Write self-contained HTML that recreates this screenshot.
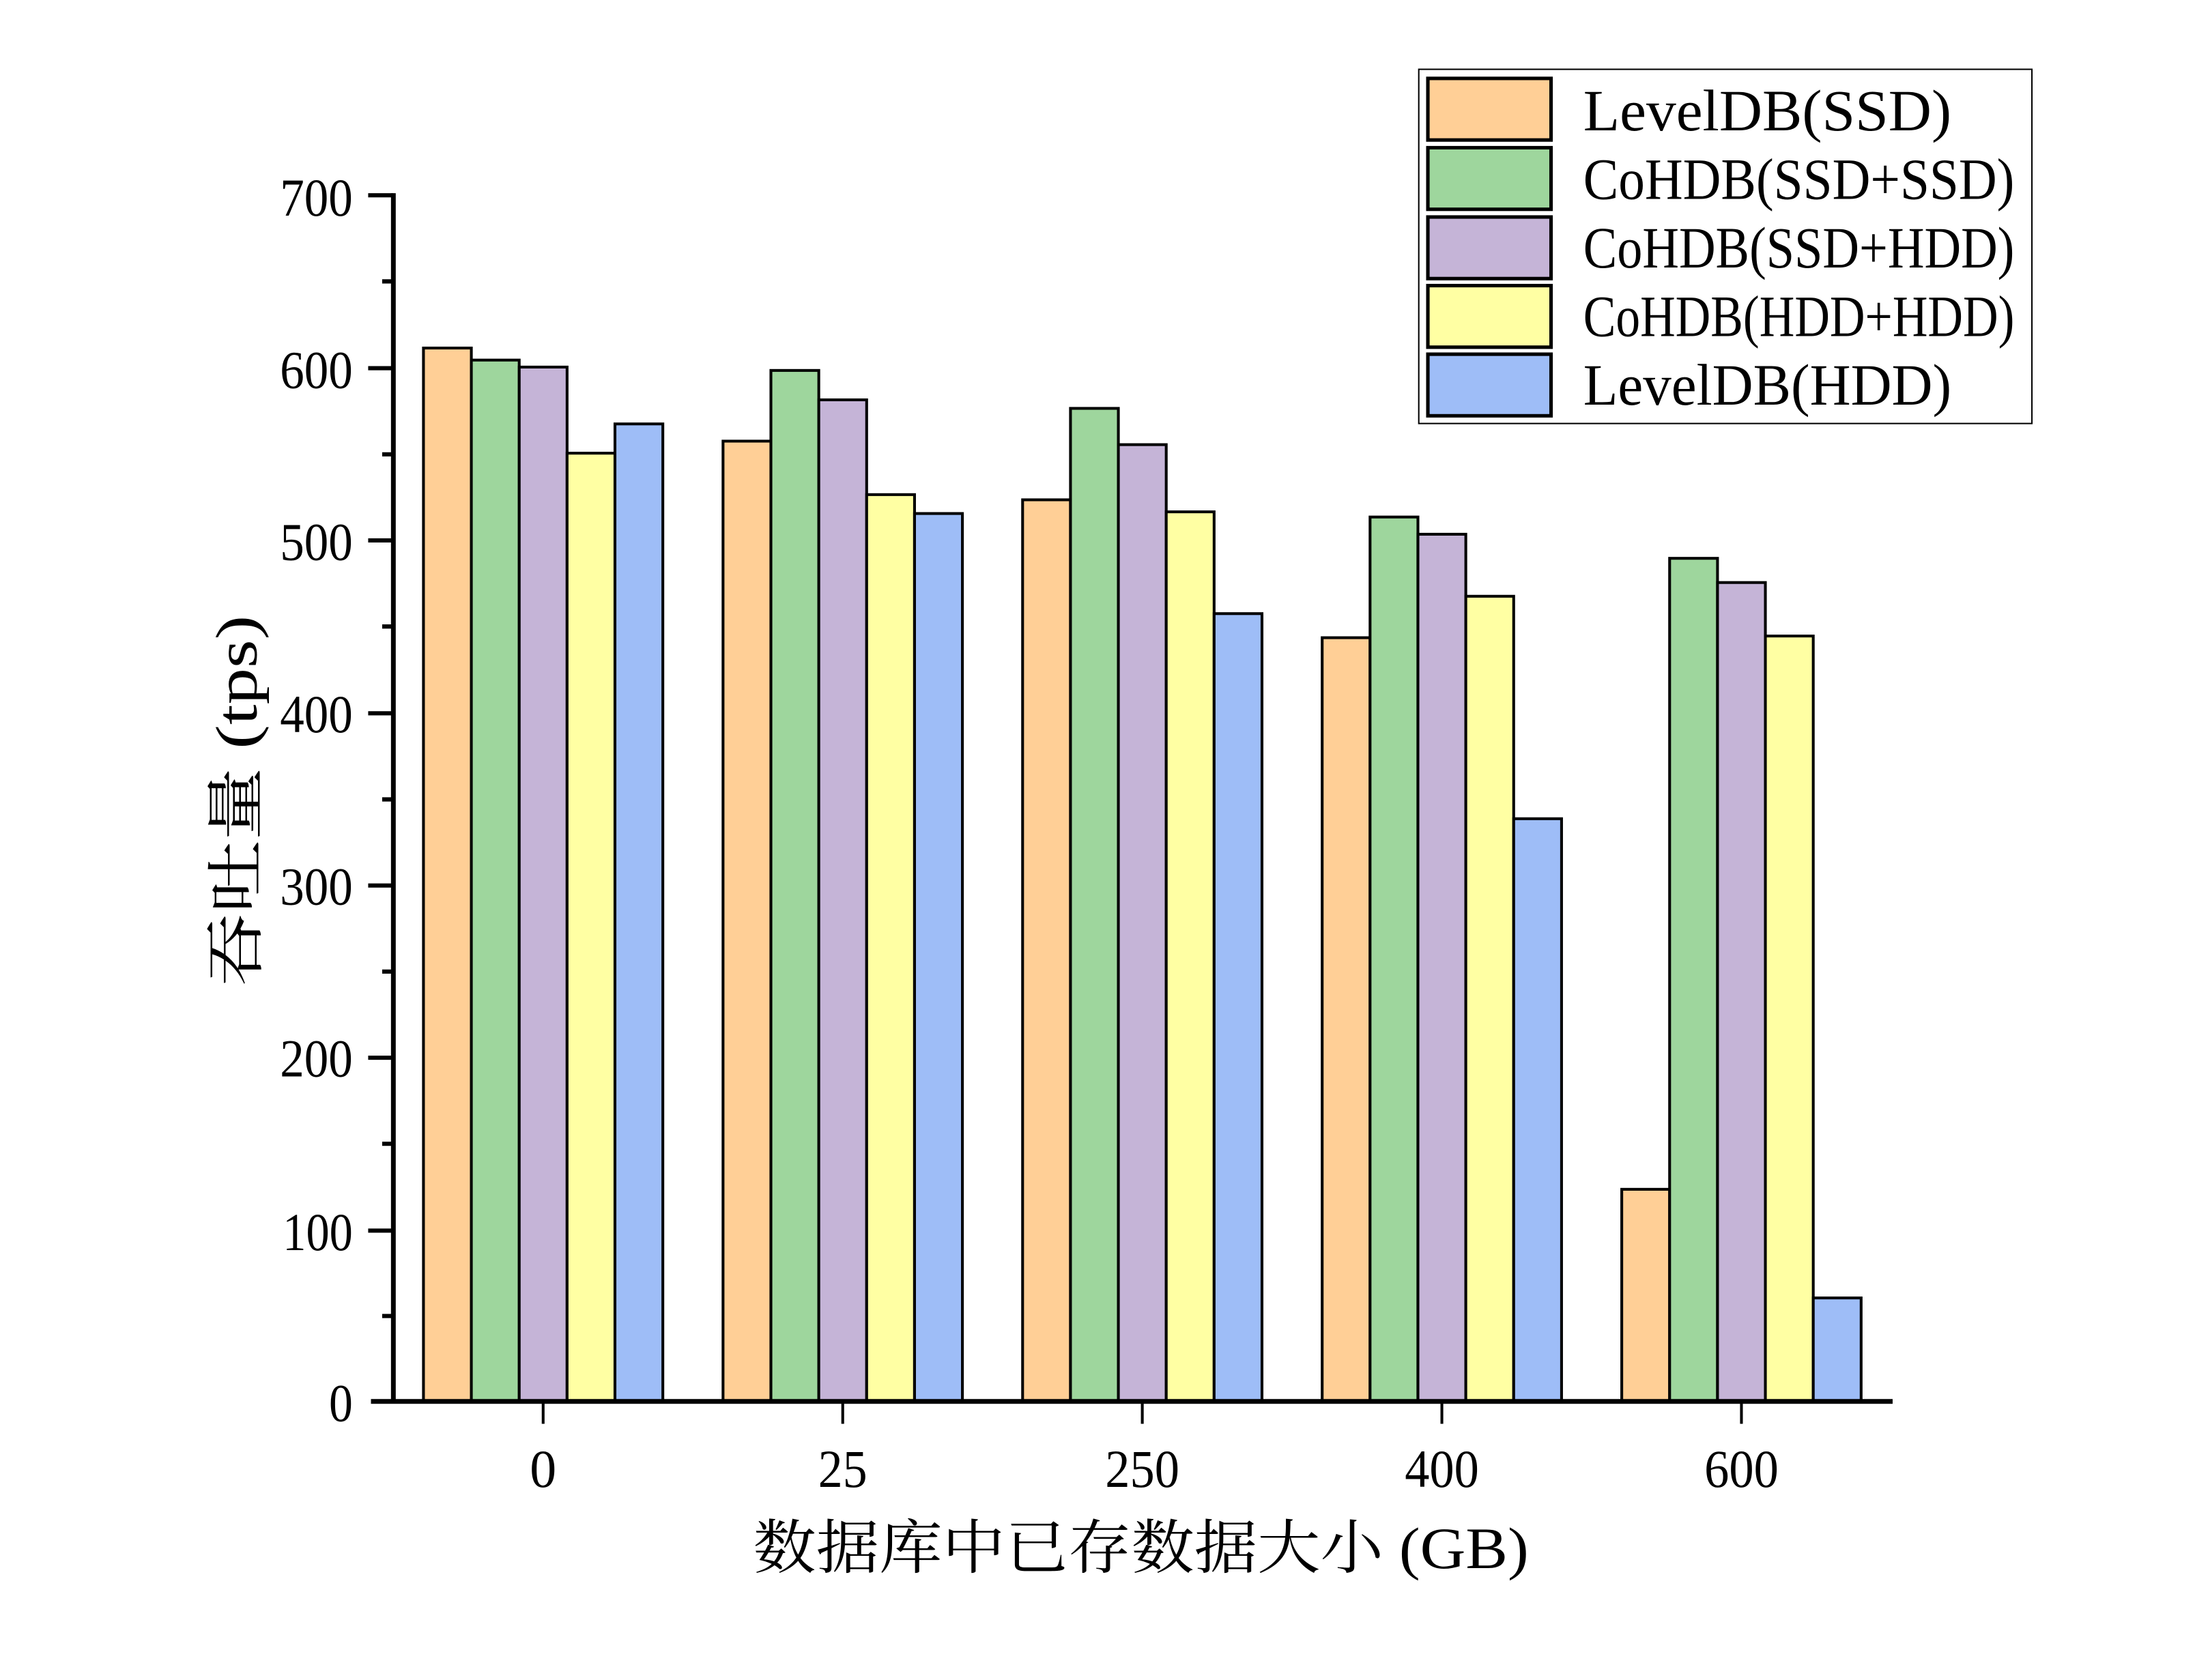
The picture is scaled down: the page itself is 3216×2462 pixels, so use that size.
<!DOCTYPE html>
<html><head><meta charset="utf-8"><style>
html,body{margin:0;padding:0;background:#fff;}
svg{display:block;}
text{font-family:"Liberation Serif","Noto Serif CJK SC",serif;fill:#000;}
</style></head><body>
<svg width="3216" height="2462" viewBox="0 0 1568 1200" preserveAspectRatio="none" xmlns="http://www.w3.org/2000/svg">
<rect width="1568" height="1200" fill="#fff"/>
<g stroke="#000" stroke-width="2">
<rect x="302.5" y="248.6" width="34.2" height="752.4" fill="#FFCF96"/>
<rect x="336.7" y="257.2" width="34.2" height="743.8" fill="#9ED69D"/>
<rect x="370.9" y="262.2" width="34.2" height="738.8" fill="#C5B4D7"/>
<rect x="405.1" y="323.7" width="34.2" height="677.3" fill="#FFFFA3"/>
<rect x="439.3" y="302.8" width="34.2" height="698.2" fill="#9EBDF7"/>
<rect x="516.5" y="315.1" width="34.2" height="685.9" fill="#FFCF96"/>
<rect x="550.7" y="264.6" width="34.2" height="736.4" fill="#9ED69D"/>
<rect x="584.9" y="285.6" width="34.2" height="715.4" fill="#C5B4D7"/>
<rect x="619.1" y="353.3" width="34.2" height="647.7" fill="#FFFFA3"/>
<rect x="653.3" y="366.8" width="34.2" height="634.2" fill="#9EBDF7"/>
<rect x="730.5" y="357.0" width="34.2" height="644.0" fill="#FFCF96"/>
<rect x="764.7" y="291.7" width="34.2" height="709.3" fill="#9ED69D"/>
<rect x="798.9" y="317.6" width="34.2" height="683.4" fill="#C5B4D7"/>
<rect x="833.1" y="365.6" width="34.2" height="635.4" fill="#FFFFA3"/>
<rect x="867.3" y="438.3" width="34.2" height="562.7" fill="#9EBDF7"/>
<rect x="944.5" y="455.5" width="34.2" height="545.5" fill="#FFCF96"/>
<rect x="978.7" y="369.3" width="34.2" height="631.7" fill="#9ED69D"/>
<rect x="1012.9" y="381.6" width="34.2" height="619.4" fill="#C5B4D7"/>
<rect x="1047.1" y="425.9" width="34.2" height="575.1" fill="#FFFFA3"/>
<rect x="1081.3" y="584.8" width="34.2" height="416.2" fill="#9EBDF7"/>
<rect x="1158.5" y="849.5" width="34.2" height="151.5" fill="#FFCF96"/>
<rect x="1192.7" y="398.8" width="34.2" height="602.2" fill="#9ED69D"/>
<rect x="1226.9" y="416.1" width="34.2" height="584.9" fill="#C5B4D7"/>
<rect x="1261.1" y="454.3" width="34.2" height="546.7" fill="#FFFFA3"/>
<rect x="1295.3" y="927.1" width="34.2" height="73.9" fill="#9EBDF7"/>
</g>
<!-- axes -->
<line x1="281" y1="138" x2="281" y2="1002" stroke="#000" stroke-width="3.4"/>
<line x1="265" y1="1001" x2="1352" y2="1001" stroke="#000" stroke-width="3.4"/>
<g stroke="#000" stroke-width="3">
<line x1="263" y1="139.5" x2="281" y2="139.5"/>
<line x1="263" y1="263" x2="281" y2="263"/>
<line x1="263" y1="386" x2="281" y2="386"/>
<line x1="263" y1="509.5" x2="281" y2="509.5"/>
<line x1="263" y1="632.5" x2="281" y2="632.5"/>
<line x1="263" y1="755.5" x2="281" y2="755.5"/>
<line x1="263" y1="879" x2="281" y2="879"/>
<line x1="273" y1="201" x2="281" y2="201"/>
<line x1="273" y1="324.5" x2="281" y2="324.5"/>
<line x1="273" y1="447.5" x2="281" y2="447.5"/>
<line x1="273" y1="571" x2="281" y2="571"/>
<line x1="273" y1="694" x2="281" y2="694"/>
<line x1="273" y1="817" x2="281" y2="817"/>
<line x1="273" y1="940" x2="281" y2="940"/>
<line x1="388" y1="1001" x2="388" y2="1017" stroke-width="2"/>
<line x1="602" y1="1001" x2="602" y2="1017" stroke-width="2"/>
<line x1="816" y1="1001" x2="816" y2="1017" stroke-width="2"/>
<line x1="1030" y1="1001" x2="1030" y2="1017" stroke-width="2"/>
<line x1="1244" y1="1001" x2="1244" y2="1017" stroke-width="2"/>
</g>
<g font-size="38" text-anchor="end">
<text x="252" y="154" textLength="52" lengthAdjust="spacingAndGlyphs">700</text>
<text x="252" y="277" textLength="52" lengthAdjust="spacingAndGlyphs">600</text>
<text x="252" y="400" textLength="52" lengthAdjust="spacingAndGlyphs">500</text>
<text x="252" y="523" textLength="52" lengthAdjust="spacingAndGlyphs">400</text>
<text x="252" y="646" textLength="52" lengthAdjust="spacingAndGlyphs">300</text>
<text x="252" y="769" textLength="52" lengthAdjust="spacingAndGlyphs">200</text>
<text x="252" y="893" textLength="50" lengthAdjust="spacingAndGlyphs">100</text>
<text x="252" y="1015" textLength="17" lengthAdjust="spacingAndGlyphs">0</text>
</g>
<g font-size="38" text-anchor="middle">
<text x="388" y="1062">0</text>
<text x="602" y="1062" textLength="35" lengthAdjust="spacingAndGlyphs">25</text>
<text x="816" y="1062" textLength="53" lengthAdjust="spacingAndGlyphs">250</text>
<text x="1030" y="1062" textLength="53" lengthAdjust="spacingAndGlyphs">400</text>
<text x="1244" y="1062" textLength="53" lengthAdjust="spacingAndGlyphs">600</text>
</g>
<text x="815" y="1120" font-size="42" text-anchor="middle" textLength="554" lengthAdjust="spacingAndGlyphs">数据库中已存数据大小 (GB)</text>
<text transform="translate(183,572) rotate(-90)" font-size="42" text-anchor="middle" textLength="265" lengthAdjust="spacingAndGlyphs">吞吐量 (tps)</text>
<!-- legend -->
<rect x="1013.5" y="49.5" width="438" height="253" fill="#fff" stroke="#000" stroke-width="1"/>
<g stroke="#000" stroke-width="2.5">
<rect x="1020" y="56" width="88" height="44" fill="#FFCF96"/>
<rect x="1020" y="105.5" width="88" height="44" fill="#9ED69D"/>
<rect x="1020" y="155" width="88" height="44" fill="#C5B4D7"/>
<rect x="1020" y="204" width="88" height="44" fill="#FFFFA3"/>
<rect x="1020" y="253" width="88" height="44" fill="#9EBDF7"/>
</g>
<g font-size="42">
<text x="1131" y="93" textLength="263" lengthAdjust="spacingAndGlyphs">LevelDB(SSD)</text>
<text x="1131" y="142" textLength="308" lengthAdjust="spacingAndGlyphs">CoHDB(SSD+SSD)</text>
<text x="1131" y="191" textLength="308" lengthAdjust="spacingAndGlyphs">CoHDB(SSD+HDD)</text>
<text x="1131" y="240" textLength="308" lengthAdjust="spacingAndGlyphs">CoHDB(HDD+HDD)</text>
<text x="1131" y="289" textLength="263" lengthAdjust="spacingAndGlyphs">LevelDB(HDD)</text>
</g>
</svg>
</body></html>
